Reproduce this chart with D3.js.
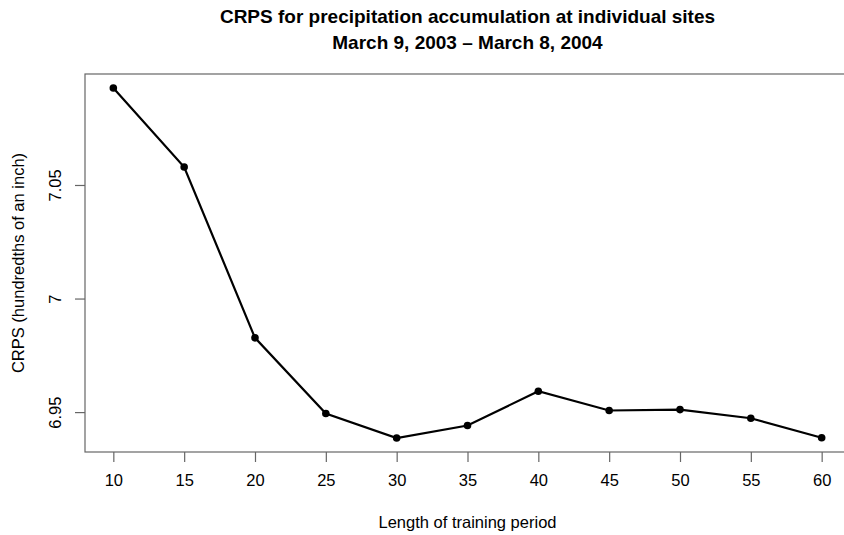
<!DOCTYPE html>
<html>
<head>
<meta charset="utf-8">
<script src="https://cdn.jsdelivr.net/npm/d3@7"></script>
<style>
  body { margin: 0; background: #fff; }
  svg text { font-family: "Liberation Sans", Arial, Helvetica, sans-serif; fill: #000; }
</style>
</head>
<body>
<div id="chart"></div>
<script>
// training period lengths (days) and the CRPS
const periods = [10, 15, 20, 25, 30, 35, 40, 45, 50, 55, 60];
const crps = [7.0927, 7.0579, 6.9827, 6.9494, 6.9386, 6.9441, 6.9592, 6.9507, 6.9511, 6.9473, 6.9387];
const yTicks = [6.95, 7, 7.05];
const titleLines = ["CRPS for precipitation accumulation at individual sites", "March 9, 2003 \u2013 March 8, 2004"];

const width = 844, height = 535;
const margin = {left: 85, right: -6, top: 74, bottom: 83};

let svg = d3.select("#chart").append("svg")
    .attr("width", width).attr("height", height);

// R style: pad range by 4% on each side
let xExt = d3.extent(periods), xPad = (xExt[1] - xExt[0]) * 0.04;
let yExt = d3.extent(crps), yPad = (yExt[1] - yExt[0]) * 0.04;

let x = d3.scaleLinear()
    .domain([xExt[0] - xPad, xExt[1] + xPad])
    .range([margin.left, width - margin.right]);
let y = d3.scaleLinear()
    .domain([yExt[0] - yPad, yExt[1] + yPad])
    .range([height - margin.bottom, margin.top]);

// box
svg.append("rect")
    .attr("x", x.range()[0]).attr("y", y.range()[1])
    .attr("width", x.range()[1] - x.range()[0])
    .attr("height", y.range()[0] - y.range()[1])
    .attr("fill", "none").attr("stroke", "#666").attr("stroke-width", 1.2);

// x axis
let xAxis = svg.append("g")
    .attr("transform", `translate(0,${y.range()[0]})`)
    .call(d3.axisBottom(x).tickValues(periods).tickSize(10).tickPadding(12));
xAxis.select(".domain").remove();
xAxis.selectAll("line").attr("stroke", "#666").attr("stroke-width", 1.2);
xAxis.selectAll("text").attr("font-size", 16.5);

// y axis
let yAxis = svg.append("g")
    .attr("transform", `translate(${x.range()[0]},0)`)
    .call(d3.axisLeft(y).tickValues(yTicks).tickSize(10).tickFormat(d => d3.format("")(d)));
yAxis.select(".domain").remove();
yAxis.selectAll("line").attr("stroke", "#666").attr("stroke-width", 1.2);
yAxis.selectAll("text")
    .attr("font-size", 16.5)
    .attr("text-anchor", "middle")
    .attr("x", null).attr("dy", null)
    .attr("transform", "translate(-28,0) rotate(-90)")
    .attr("dominant-baseline", "middle");

let cx = (x.range()[0] + x.range()[1]) / 2;

// titles
svg.selectAll(".title")
    .data(titleLines)
    .enter().append("text")
    .attr("class", "title")
    .attr("x", cx)
    .attr("y", (d, i) => 23 + i * 26)
    .attr("text-anchor", "middle")
    .attr("font-size", 19)
    .attr("font-weight", "bold")
    .text(d => d);

svg.append("text")
    .attr("x", cx).attr("y", 528)
    .attr("text-anchor", "middle")
    .attr("font-size", 16.5)
    .text("Length of training period");

svg.append("text")
    .attr("transform", `translate(24,${(y.range()[0] + y.range()[1]) / 2}) rotate(-90)`)
    .attr("text-anchor", "middle")
    .attr("font-size", 16.5)
    .text("CRPS (hundredths of an inch)");

// line and points
let data = periods.map((p, i) => ({p: p, v: crps[i]}));
let line = d3.line().x(d => x(d.p)).y(d => y(d.v));

svg.append("path")
    .datum(data)
    .attr("d", line)
    .attr("fill", "none")
    .attr("stroke", "#000")
    .attr("stroke-width", 2.2);

svg.selectAll(".pt")
    .data(data)
    .enter().append("circle")
    .attr("class", "pt")
    .attr("cx", d => x(d.p))
    .attr("cy", d => y(d.v))
    .attr("r", 3.8)
    .attr("fill", "#000");
</script>
</body>
</html>
